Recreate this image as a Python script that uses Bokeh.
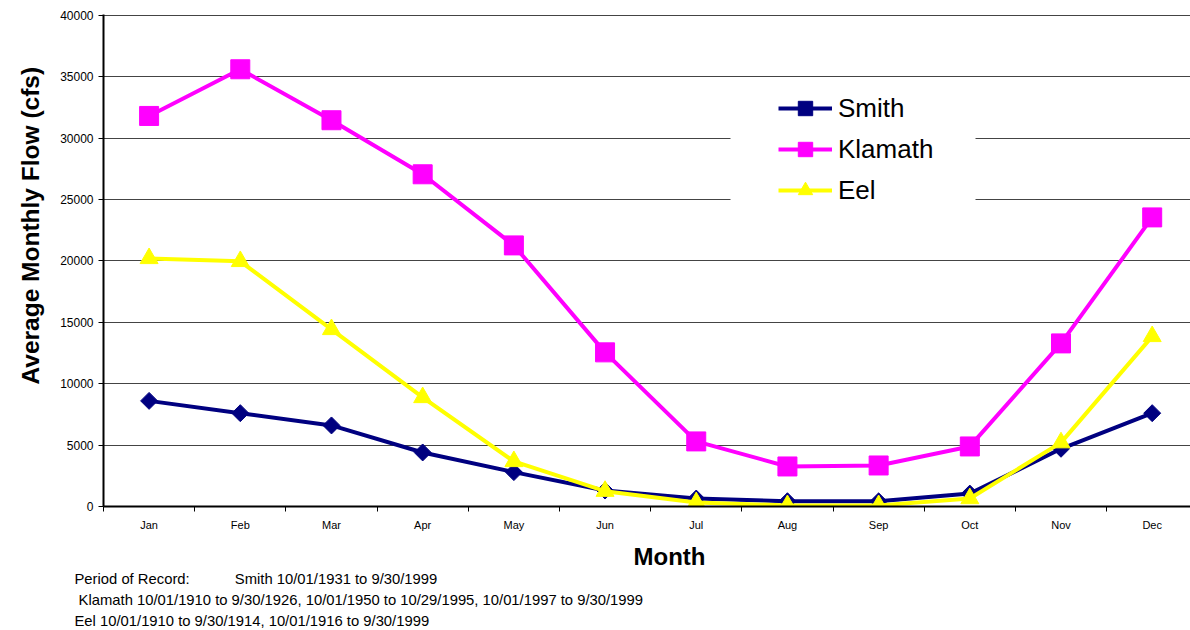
import numpy as np
from bokeh.plotting import figure
from bokeh.layouts import column
from bokeh.models import (Range1d, FixedTicker, Legend, LegendItem, Label,
                          BoxAnnotation, Title)
from bokeh.embed import file_html
from bokeh.resources import INLINE

months = ["Jan", "Feb", "Mar", "Apr", "May", "Jun",
          "Jul", "Aug", "Sep", "Oct", "Nov", "Dec"]
smith = [8600, 7600, 6600, 4400, 2800, 1300, 650, 430, 420, 1050, 4700, 7600]
klamath = [31800, 35600, 31450, 27050, 21260, 12550, 5300, 3260, 3340, 4890, 13280, 23540]
eel = [20200, 19960, 14420, 8880, 3670, 1250, 330, 90, 90, 650, 5200, 13850]
y_ticks = [0, 5000, 10000, 15000, 20000, 25000, 30000, 35000, 40000]
record_head = "Period of Record:"
footnotes = [
    "Smith 10/01/1931 to 9/30/1999",
    "Klamath 10/01/1910 to 9/30/1926, 10/01/1950 to 10/29/1995, 10/01/1997 to 9/30/1999",
    "Eel 10/01/1910 to 9/30/1914, 10/01/1916 to 9/30/1999",
]
figure_tag = "FIGURE 6-6"

FONT = "Liberation Sans"
NB = "\u00a0"
x = np.arange(len(months)) + 0.5

p = figure(width=1190, height=629, output_backend="svg", toolbar_location=None,
           x_range=Range1d(0, 11.92), y_range=Range1d(0, 40060),
           min_border_left=103, min_border_top=14, min_border_bottom=123,
           min_border_right=0)
p.outline_line_color = None
p.background_fill_color = "white"

# y axis
p.yaxis.ticker = FixedTicker(ticks=y_ticks)
p.yaxis.axis_line_color = "black"
p.yaxis.axis_line_width = 2
p.yaxis.major_tick_line_color = "black"
p.yaxis.major_tick_in = 0
p.yaxis.major_tick_out = 5
p.yaxis.minor_tick_line_color = None
p.yaxis.major_label_text_font = FONT
p.yaxis.major_label_text_font_size = "12px"
p.yaxis.major_label_text_color = "black"
p.yaxis.major_label_standoff = 5

# x axis: labels at centres, ticks at category boundaries
p.xaxis.ticker = FixedTicker(ticks=list(x), minor_ticks=list(range(13)))
p.xaxis.major_label_overrides = {float(v): m for v, m in zip(x, months)}
p.xaxis.axis_line_color = "black"
p.xaxis.axis_line_width = 2
p.xaxis.major_tick_line_color = None
p.xaxis.minor_tick_line_color = "black"
p.xaxis.minor_tick_in = 0
p.xaxis.minor_tick_out = 5
p.xaxis.major_label_text_font = FONT
p.xaxis.major_label_text_font_size = "11px"
p.xaxis.major_label_text_color = "black"
p.xaxis.major_label_standoff = 6
# invisible spacer label to push the "Month" title down
p.xaxis.axis_label = NB
p.xaxis.axis_label_text_font_size = "1px"
p.xaxis.axis_label_standoff = 3

p.xgrid.grid_line_color = None
p.ygrid.ticker = FixedTicker(ticks=y_ticks[1:])
p.ygrid.grid_line_color = "#444444"
p.ygrid.grid_line_width = 1

# white box behind legend
p.add_layout(BoxAnnotation(left=627, right=872, top=418, bottom=301,
                           left_units="screen", right_units="screen",
                           top_units="screen", bottom_units="screen",
                           fill_color="white", fill_alpha=1.0, line_color=None,
                           level="overlay"))

l1 = p.line(x, smith, line_color="#000080", line_width=4)
m1 = p.scatter(x, smith, marker="square", size=12, angle=np.pi / 4,
               fill_color="#000080", line_color="#000080")
l2 = p.line(x, klamath, line_color="#FF00FF", line_width=4)
m2 = p.scatter(x, klamath, marker="square", size=19,
               fill_color="#FF00FF", line_color="#FF00FF")
l3 = p.line(x, eel, line_color="#FFFF00", line_width=4)
m3 = p.scatter(x, eel, marker="triangle", size=18,
               fill_color="#FFFF00", line_color="#FFFF00")

legend = Legend(items=[LegendItem(label="Smith", renderers=[l1, m1]),
                       LegendItem(label="Klamath", renderers=[l2, m2]),
                       LegendItem(label="Eel", renderers=[l3, m3])],
                location=(675, 298), padding=0, margin=0, spacing=5,
                glyph_width=54, glyph_height=36, label_height=36,
                label_standoff=6, label_text_font=FONT,
                label_text_font_size="26px", label_text_color="black",
                border_line_color=None, background_fill_alpha=0)
p.add_layout(legend)

# axis titles
p.add_layout(Title(text="Average Monthly Flow (cfs)", align="left",
                   offset=122, standoff=27, text_font=FONT,
                   text_font_style="bold", text_font_size="24.5px",
                   text_color="black"), "left")
p.add_layout(Title(text="Month", align="left", offset=530, standoff=0,
                   text_font=FONT, text_font_style="bold",
                   text_font_size="24px", text_color="black"), "below")

# record notes
notes_text = "\n".join([
    record_head + NB * 11 + footnotes[0],
    NB + footnotes[1],
    footnotes[2],
])
p.add_layout(Title(text=notes_text, align="left", offset=-29, standoff=0,
                   text_font=FONT, text_font_style="normal",
                   text_font_size="14.8px", text_line_height=1.317,
                   text_color="black"), "below")

# thin strip at the very bottom where the figure tag is cut off
f = figure(width=1190, height=1, output_backend="svg", toolbar_location=None,
           x_range=Range1d(103, 1190), y_range=Range1d(0, 1),
           x_axis_type=None, y_axis_type=None, min_border=0)
f.outline_line_color = None
f.xgrid.grid_line_color = None
f.ygrid.grid_line_color = None
f.add_layout(Label(x=1079, y=4, text=figure_tag, text_font=FONT,
                   text_font_style="bold", text_font_size="17px",
                   text_align="left", text_baseline="top",
                   text_color="black"))

open("out.html", "w").write(file_html(column(p, f), INLINE))
